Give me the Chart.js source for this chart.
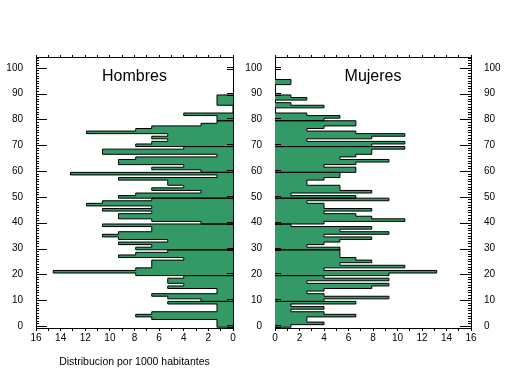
<!DOCTYPE html>
<html>
<head>
<meta charset="utf-8">
<script src="https://cdn.jsdelivr.net/npm/chart.js@4.4.0/dist/chart.umd.min.js"></script>
<style>
  body { margin: 0; background: #fff; }
  #wrap { position: relative; width: 509px; height: 376px; }
  canvas { position: absolute; top: 0; }
  #left { left: 0; }
  #right { left: 240px; }
</style>
</head>
<body>
<div id="wrap">
  <canvas id="left" width="240" height="376"></canvas>
  <canvas id="right" width="269" height="376"></canvas>
</div>
<script>
// per 1000 inhabitants, one value per year of age (index = age)
const hombres = [
  1.3, 1.3, 1.3, 6.6, 7.9, 6.6, 1.3, 1.3, 1.3, 5.3,
  2.6, 5.3, 6.6, 1.3, 1.3, 5.3, 4.0, 5.3, 5.3, 4.0,
  7.9, 14.6, 7.9, 6.6, 6.6, 6.6, 4.0, 9.3, 7.9, 5.3,
  7.9, 6.6, 9.3, 5.3, 9.3, 10.6, 9.3, 6.6, 6.6, 10.6,
  2.6, 6.6, 9.3, 9.3, 6.6, 10.6, 6.6, 11.9, 10.6, 6.6,
  9.3, 7.9, 2.6, 6.6, 4.0, 5.3, 5.3, 9.3, 1.3, 13.2,
  2.6, 6.6, 4.0, 9.3, 9.3, 7.9, 1.3, 10.6, 10.6, 4.0,
  7.9, 6.6, 5.3, 6.6, 5.3, 11.9, 7.9, 6.6, 2.6, 1.3,
  1.3, 1.3, 4.0, 0, 0, 0, 1.3, 1.3, 1.3, 1.3
];
const mujeres = [
  1.3, 4.0, 2.6, 2.6, 6.6, 4.0, 1.3, 4.0, 1.3, 6.6,
  4.0, 9.3, 4.0, 2.6, 4.0, 7.9, 9.3, 2.6, 9.3, 4.0,
  9.3, 13.2, 4.0, 10.6, 5.3, 7.9, 6.6, 5.3, 5.3, 5.3,
  5.3, 2.6, 4.0, 5.3, 7.9, 4.0, 9.3, 5.3, 7.9, 1.3,
  4.0, 10.6, 7.9, 6.6, 4.0, 7.9, 4.0, 4.0, 2.6, 9.3,
  6.6, 1.3, 7.9, 5.3, 5.3, 2.6, 2.6, 4.0, 5.3, 5.3,
  6.6, 6.6, 4.0, 6.6, 9.3, 5.3, 6.6, 7.9, 7.9, 10.6,
  7.9, 10.6, 2.6, 7.9, 10.6, 6.6, 2.6, 4.0, 6.6, 6.6,
  4.0, 5.3, 2.6, 0, 0, 4.0, 1.3, 0, 2.6, 1.3,
  0, 0, 0, 0, 1.3, 1.3
];
const xLabels = [0, 2, 4, 6, 8, 10, 12, 14, 16];
const yLabels = [0, 10, 20, 30, 40, 50, 60, 70, 80, 90, 100];

const green = '#339966';
const FONT = '"Liberation Sans", Arial, sans-serif';
Chart.defaults.font.family = FONT;
Chart.defaults.font.size = 10;
Chart.defaults.color = '#000';

// outline of the one-year bars, closed back to 0 at every decade
function stepPoints(values) {
  const pts = [{x: 0, y: -0.5}];
  values.forEach((v, age) => {
    pts.push({x: v, y: age - 0.5}, {x: v, y: age + 0.5});
    if ((age + 1) % 10 === 0) pts.push({x: 0, y: age + 0.5});
  });
  pts.push({x: 0, y: values.length - 0.5});
  return pts;
}

// y tick marks (minor every year inside, "=" marks between the panels) + panel name
const ageTicks = {
  id: 'ageTicks',
  afterDraw(chart, args, opts) {
    const {ctx, chartArea: a, scales: {y}} = chart;
    const inX = opts.inner === 'left' ? a.left : a.right;
    const inDir = opts.inner === 'left' ? 1 : -1;
    const outX = opts.inner === 'left' ? a.right : a.left;
    const outDir = -inDir;
    ctx.save();
    ctx.strokeStyle = '#000';
    ctx.lineWidth = 1;
    ctx.beginPath();
    for (let v = 0; v <= 104; v++) {
      const py = Math.round(y.getPixelForValue(v)) + 0.5;
      const major = v % 10 === 0;
      ctx.moveTo(inX, py);
      ctx.lineTo(inX + inDir * (major ? 11 : 3), py);
      if (major) {
        ctx.moveTo(outX, py - 1); ctx.lineTo(outX + outDir * 6, py - 1);
        ctx.moveTo(outX, py + 1); ctx.lineTo(outX + outDir * 6, py + 1);
      }
    }
    ctx.stroke();
    ctx.font = '16px ' + FONT;
    ctx.fillStyle = '#000';
    ctx.textAlign = 'center';
    ctx.textBaseline = 'alphabetic';
    ctx.fillText(opts.title, (a.left + a.right) / 2, 81);
    ctx.restore();
  }
};

function makeChart(id, values, side, sizes) {
  const left = side === 'left';
  const xBase = {
    type: 'linear', min: 0, max: 16, reverse: left,
    border: {color: '#000'},
    grid: {drawOnChartArea: false, color: '#000', tickLength: 3},
    ticks: {stepSize: 1, autoSkip: false, maxRotation: 0, padding: 1,
      callback: v => xLabels.includes(v) ? String(v) : ''}
  };
  const yTicks = {stepSize: 10, autoSkip: false, includeBounds: false, padding: 13,
    callback: v => yLabels.includes(v) ? String(v) : ''};
  return new Chart(document.getElementById(id), {
    type: 'line',
    data: {
      datasets: [{
        data: stepPoints(values),
        xAxisID: 'x', yAxisID: 'y',
        fill: 'origin',
        backgroundColor: green,
        borderColor: '#000',
        borderWidth: 1,
        pointRadius: 0,
        tension: 0
      }]
    },
    options: {
      indexAxis: 'y',
      responsive: false,
      animation: false,
      devicePixelRatio: 1,
      layout: {padding: 0},
      plugins: {
        legend: {display: false},
        tooltip: {enabled: false},
        ageTicks: {inner: side, title: left ? 'Hombres' : 'Mujeres'}
      },
      scales: {
        x: Object.assign({}, xBase, {
          axis: 'x', position: 'bottom',
          title: {display: left, text: 'Distribucion por 1000 habitantes',
            font: {size: 10.5}, padding: {top: 0, bottom: 8}},
          afterFit: s => { s.height = 48; }
        }),
        xTop: Object.assign({}, xBase, {
          axis: 'x', position: 'top',
          grid: {drawOnChartArea: false, color: '#000', tickLength: 2},
          ticks: {display: false, stepSize: 1, autoSkip: false},
          afterFit: s => { s.height = 57; }
        }),
        y: {
          type: 'linear', axis: 'y', position: 'left', min: -0.8, max: 104.2,
          border: {color: '#000'},
          grid: {display: false, drawTicks: false},
          ticks: Object.assign({display: true}, yTicks),
          afterFit: s => { s.width = sizes.left; }
        },
        yRight: {
          type: 'linear', axis: 'y', position: 'right', min: -0.8, max: 104.2,
          border: {color: '#000'},
          grid: {display: false, drawTicks: false},
          ticks: Object.assign({display: !left}, yTicks),
          afterFit: s => { s.width = sizes.right; }
        }
      }
    },
    plugins: [ageTicks]
  });
}

makeChart('left', hombres, 'left', {left: 36, right: 7});
makeChart('right', mujeres, 'right', {left: 35, right: 38});
</script>
</body>
</html>
